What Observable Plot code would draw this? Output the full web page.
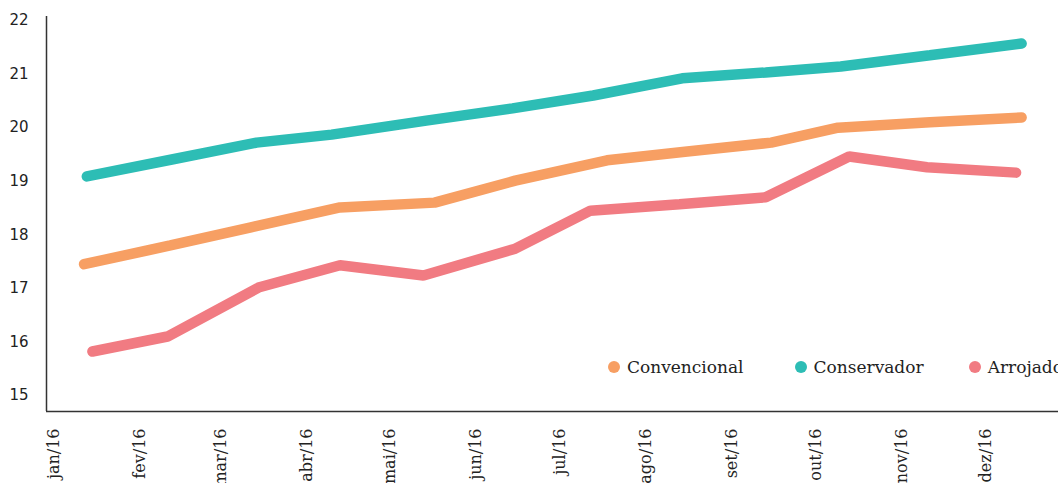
<!DOCTYPE html>
<html>
<head>
<meta charset="utf-8">
<script src="https://cdn.jsdelivr.net/npm/d3@7"></script>
<script src="https://cdn.jsdelivr.net/npm/@observablehq/plot@0.6"></script>
<style>
  html, body { margin: 0; padding: 0; background: #fff; overflow: hidden; }
  #wrap { position: relative; width: 1058px; height: 483px; overflow: hidden; }
  #legend { position: absolute; left: 608px; top: 356px; display: flex; white-space: nowrap;
            font-family: "DejaVu Serif", serif; font-size: 17px; color: #222; line-height: 22px; }
  #legend .item { display: flex; align-items: center; }
  #legend .sw { width: 12px; height: 12px; border-radius: 50%; margin-right: 7px; }
</style>
</head>
<body>
<div id="wrap"><div id="chart"></div><div id="legend"></div></div>
<script>
// ---- data ----
const seriesNames = ["Convencional", "Conservador", "Arrojado"];
const seriesColors = ["#f79f63", "#2dbdb5", "#f17b82"];
const monthLabels = ["jan","fev","mar","abr","mai","jun","jul","ago","set","out","nov","dez"];
const yTicks = [15, 16, 17, 18, 19, 20, 21, 22];

const convencionalDates = ["2016-01-12","2016-02-12","2016-03-12","2016-04-13","2016-05-17","2016-06-15","2016-07-18","2016-08-15","2016-09-15","2016-10-09","2016-11-11","2016-12-14"];
const convencionalValues = [17.45, 17.80, 18.14, 18.51, 18.60, 19.01, 19.39, 19.55, 19.72, 20.00, 20.10, 20.19];

const conservadorDates = ["2016-01-13","2016-02-13","2016-03-14","2016-04-10","2016-05-14","2016-06-14","2016-07-13","2016-08-14","2016-09-13","2016-10-10","2016-11-11","2016-12-14"];
const conservadorValues = [19.09, 19.41, 19.72, 19.87, 20.13, 20.36, 20.60, 20.92, 21.03, 21.14, 21.35, 21.57];

const arrojadoDates = ["2016-01-15","2016-02-11","2016-03-15","2016-04-13","2016-05-13","2016-06-15","2016-07-12","2016-08-13","2016-09-13","2016-10-13","2016-11-10","2016-12-12"];
const arrojadoValues = [15.82, 16.10, 17.02, 17.43, 17.24, 17.74, 18.45, 18.57, 18.70, 19.46, 19.26, 19.16];

// ---- build table ----
const rows = [];
[[seriesNames[0], convencionalDates, convencionalValues],
 [seriesNames[1], conservadorDates, conservadorValues],
 [seriesNames[2], arrojadoDates, arrojadoValues]].forEach(([name, ds, vs]) => {
  ds.forEach((d, i) => rows.push({serie: name, date: new Date(d + "T00:00:00Z"), value: vs[i]}));
});

const xDomain = [new Date(Date.UTC(2015, 11, 29, 12)), new Date(Date.UTC(2016, 11, 27, 6))];
const yDomain = [14.70, 22.075];
const xTicks = monthLabels.map((m, i) => new Date(Date.UTC(2016, i, 1)));

const chart = Plot.plot({
  width: 1058,
  height: 483,
  marginLeft: 46,
  marginRight: 0,
  marginTop: 16,
  marginBottom: 72,
  style: { background: "#fff", overflow: "visible" },
  x: { type: "utc", domain: xDomain },
  y: { domain: yDomain },
  color: { domain: seriesNames, range: seriesColors },
  marks: [
    Plot.axisY({ ticks: yTicks, tickSize: 0, tickPadding: 18, label: null,
                 fontSize: 15, fontFamily: "DejaVu Sans", fill: "#222", textAnchor: "end" }),
    Plot.axisX({ ticks: xTicks, tickSize: 0, tickPadding: 17, tickRotate: -90, label: null,
                 fontSize: 16, fontFamily: "DejaVu Serif", fill: "#222",
                 tickFormat: d => monthLabels[d.getUTCMonth()] + "/" + String(d.getUTCFullYear()).slice(2) }),
    Plot.ruleY([yDomain[0]], { stroke: "#333", strokeWidth: 1.5 }),
    Plot.ruleX([xDomain[0]], { stroke: "#333", strokeWidth: 1.5 }),
    Plot.line(rows, { x: "date", y: "value", z: "serie", stroke: "serie",
                      strokeWidth: 10.5, strokeLinecap: "round", strokeLinejoin: "miter" })
  ]
});
document.getElementById("chart").appendChild(chart);

const legendGaps = [51, 45, 0];
const legend = document.getElementById("legend");
seriesNames.forEach((n, i) => {
  const it = document.createElement("div");
  it.className = "item";
  it.style.marginRight = legendGaps[i] + "px";
  const sw = document.createElement("span");
  sw.className = "sw";
  sw.style.background = seriesColors[i];
  const tx = document.createElement("span");
  tx.textContent = n;
  it.appendChild(sw); it.appendChild(tx);
  legend.appendChild(it);
});
</script>
</body>
</html>
